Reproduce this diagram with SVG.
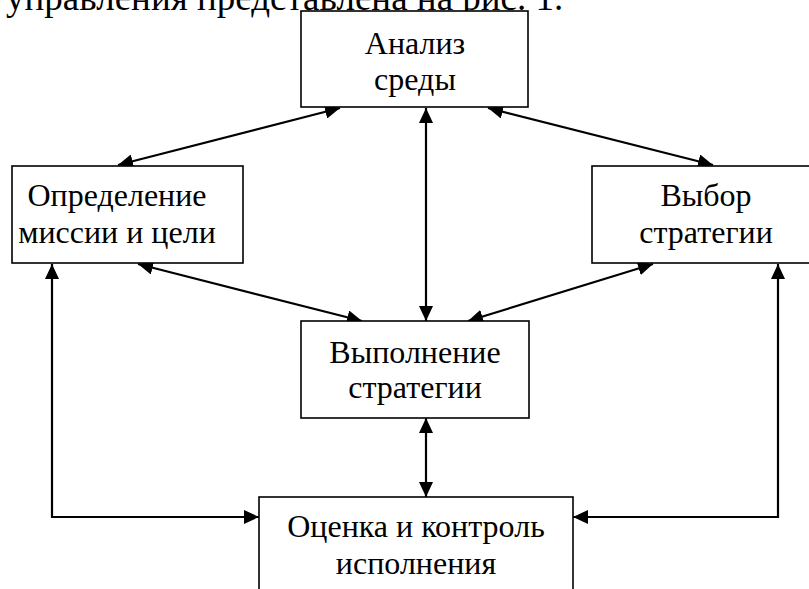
<svg xmlns="http://www.w3.org/2000/svg" width="809" height="589" viewBox="0 0 809 589">
<defs>
<marker id="ah" markerUnits="userSpaceOnUse" markerWidth="16" markerHeight="14" refX="15" refY="7" orient="auto-start-reverse" viewBox="0 0 16 14">
<path d="M0,0 L15,7 L0,14 z" fill="#000"/>
</marker>
<style>
.box{fill:#fff;stroke:#000;stroke-width:1.6}
.t{font-family:"Liberation Serif","Times New Roman",serif;font-size:32px;fill:#000;text-anchor:middle}
.c{fill:none;stroke:#000;stroke-width:2.2;marker-start:url(#ah);marker-end:url(#ah)}
</style>
</defs>
<rect width="809" height="589" fill="#fff"/>
<text x="6" y="10" style="font-family:'Liberation Serif','Times New Roman',serif;font-size:37px">управления представлена на рис. 1.</text>
<g id="connectors">
<line class="c" x1="118" y1="165" x2="340" y2="108"/>
<line class="c" x1="488" y1="108" x2="713" y2="165"/>
<line class="c" x1="138" y1="264" x2="362" y2="321"/>
<line class="c" x1="653" y1="264" x2="468" y2="321"/>
<line class="c" x1="426" y1="108" x2="426" y2="321"/>
<line class="c" x1="426" y1="418" x2="426" y2="497"/>
<polyline class="c" points="52,264 52,517 259,517"/>
<polyline class="c" points="778,264 778,517 573,517"/>
</g>
<g id="analiz">
<rect class="box" x="301" y="11" width="227" height="96"/>
<text class="t" x="415" y="54">Анализ</text>
<text class="t" x="415" y="90">среды</text>
</g>
<g id="opredelenie">
<rect class="box" x="12" y="166" width="231" height="97"/>
<text class="t" x="117" y="206">Определение</text>
<text class="t" x="117" y="243">миссии и цели</text>
</g>
<g id="vybor">
<rect class="box" x="592" y="166" width="232" height="97"/>
<text class="t" x="706" y="206">Выбор</text>
<text class="t" x="706" y="243">стратегии</text>
</g>
<g id="vypolnenie">
<rect class="box" x="301" y="321" width="228" height="97"/>
<text class="t" x="415" y="363">Выполнение</text>
<text class="t" x="415" y="398">стратегии</text>
</g>
<g id="ocenka">
<rect class="box" x="259" y="497" width="314" height="110"/>
<text class="t" x="416" y="537">Оценка и контроль</text>
<text class="t" x="416" y="574">исполнения</text>
</g>
</svg>
